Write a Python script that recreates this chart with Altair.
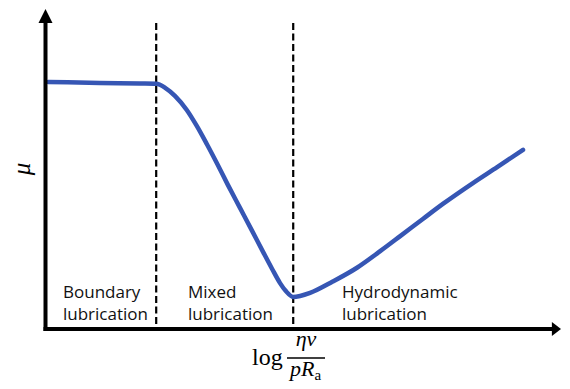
import altair as alt
import pandas as pd

# Stribeck curve: x = log(eta*v / (p*Ra)) in arbitrary units, mu = friction coefficient (arbitrary units)
log_x = [0.06, 1.04, 1.80, 2.11, 2.28, 2.47, 2.69, 2.88, 3.07, 3.26, 3.47, 3.70, 3.93, 4.14,
         4.31, 4.46, 4.57, 4.71, 4.84, 5.03, 5.46, 5.92, 6.36, 6.74, 7.17, 7.55, 8.12, 8.58, 9.07]
mu = [0.798, 0.795, 0.793, 0.792, 0.779, 0.752, 0.707, 0.655, 0.596, 0.534, 0.463, 0.388, 0.313, 0.244,
      0.189, 0.143, 0.117, 0.098, 0.101, 0.111, 0.148, 0.193, 0.247, 0.296, 0.352, 0.401, 0.469, 0.521, 0.577]
regime_boundaries = [2.11, 4.71]
label_boundary = ["Boundary", "lubrication"]
label_mixed = ["Mixed", "lubrication"]
label_hydro = ["Hydrodynamic", "lubrication"]
y_title = "μ"
x_title_log = "log"
x_title_num = "ην"
x_title_den = "pR"
x_title_sub = "a"

curve_df = pd.DataFrame({"x": log_x, "mu": mu})
bound_df = pd.DataFrame({"x": regime_boundaries})
one = pd.DataFrame({"a": [0]})

xs = alt.Scale(domain=[0, 10], range=[37, 564])
ys = alt.Scale(domain=[0, 1], range=[319, 12])

curve = alt.Chart(curve_df).mark_line(
    color="#3656b4", strokeWidth=4.5, interpolate="monotone", strokeCap="round"
).encode(
    x=alt.X("x:Q", scale=xs, axis=None),
    y=alt.Y("mu:Q", scale=ys, axis=None),
)

bounds = alt.Chart(bound_df).mark_rule(
    color="black", strokeWidth=2.2, strokeDash=[7, 3.5]
).encode(
    x=alt.X("x:Q", scale=xs, axis=None),
    y=alt.value(15),
    y2=alt.value(321),
)

axis_y = alt.Chart(one).mark_rule(color="black", strokeWidth=4).encode(
    x=alt.value(37.5), y=alt.value(14), y2=alt.value(323)
)
axis_x = alt.Chart(one).mark_rule(color="black", strokeWidth=4).encode(
    x=alt.value(35.5), x2=alt.value(545), y=alt.value(321)
)
arrow_y = alt.Chart(one).mark_point(
    shape="M0,-1L1,1L-1,1Z", filled=True, color="black", opacity=1, size=196
).encode(x=alt.value(37.5), y=alt.value(8))
arrow_x = alt.Chart(one).mark_point(
    shape="M1,0L-0.3,-1L-0.3,1Z", filled=True, color="black", opacity=1, size=196
).encode(x=alt.value(546), y=alt.value(321))


def region_label(lines, xpos):
    return alt.Chart(one).mark_text(
        font="Open Sans", fontSize=17, align="left", baseline="alphabetic",
        lineHeight=22, color="#111111"
    ).encode(x=alt.value(xpos), y=alt.value(290), text=alt.value(lines))


lab1 = region_label(label_boundary, 55)
lab2 = region_label(label_mixed, 180)
lab3 = region_label(label_hydro, 334)

mu_title = alt.Chart(one).mark_text(
    font="Liberation Serif", fontStyle="italic", fontSize=25, angle=270,
    align="center", baseline="middle", color="black"
).encode(x=alt.value(14), y=alt.value(161), text=alt.value(y_title))

log_t = alt.Chart(one).mark_text(
    font="Liberation Serif", fontSize=24, align="left", baseline="alphabetic", color="black"
).encode(x=alt.value(244), y=alt.value(357), text=alt.value(x_title_log))
num_t = alt.Chart(one).mark_text(
    font="Liberation Serif", fontStyle="italic", fontSize=22, align="center",
    baseline="alphabetic", color="black"
).encode(x=alt.value(298), y=alt.value(338), text=alt.value(x_title_num))
bar_t = alt.Chart(one).mark_rule(color="black", strokeWidth=1.5).encode(
    x=alt.value(279), x2=alt.value(317), y=alt.value(350)
)
den_t = alt.Chart(one).mark_text(
    font="Liberation Serif", fontStyle="italic", fontSize=22, align="left",
    baseline="alphabetic", color="black"
).encode(x=alt.value(282), y=alt.value(367.5), text=alt.value(x_title_den))
sub_t = alt.Chart(one).mark_text(
    font="Liberation Serif", fontSize=15, align="left", baseline="alphabetic", color="black"
).encode(x=alt.value(306.5), y=alt.value(371.5), text=alt.value(x_title_sub))

chart = alt.layer(
    bounds, curve, axis_y, axis_x, arrow_y, arrow_x, lab1, lab2, lab3,
    mu_title, log_t, num_t, bar_t, den_t, sub_t
).properties(
    width=554, height=373, autosize="none", padding=0, background="white"
).configure_view(stroke=None)

chart.save("out.html", embed_options={"renderer": "svg", "actions": False})
